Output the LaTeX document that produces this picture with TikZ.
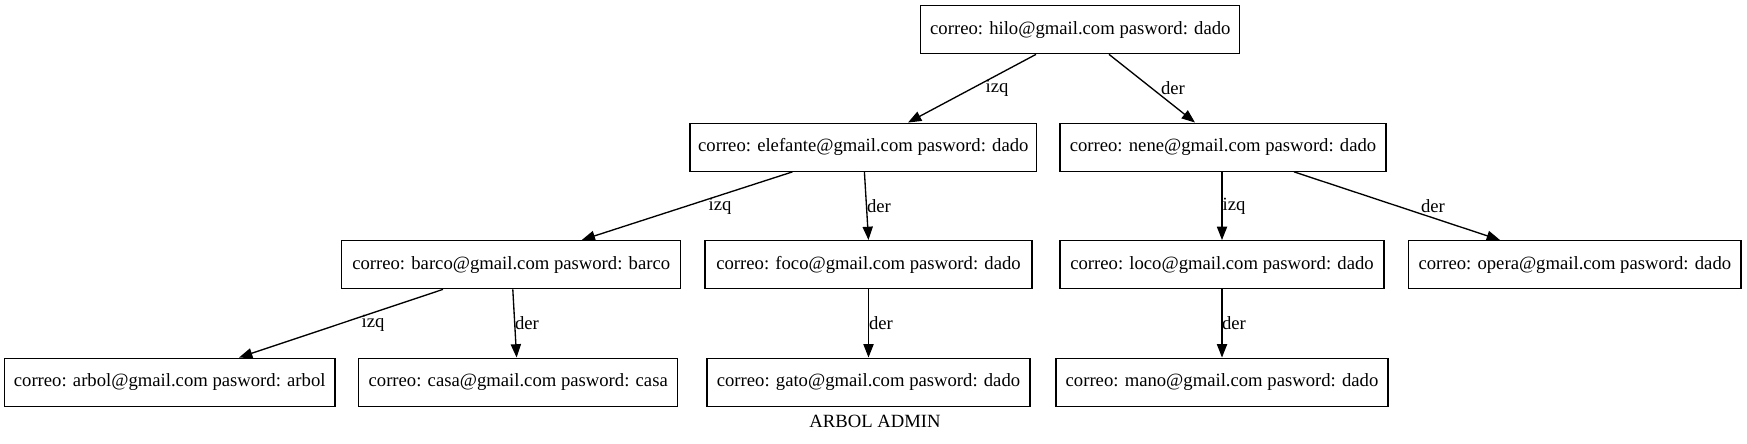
\documentclass[tikz,border=0pt]{standalone}
\usepackage{fontspec}
\setmainfont{Liberation Serif}
\usetikzlibrary{arrows.meta,calc}
\begin{document}
\begin{tikzpicture}[x=0.75pt,y=-0.75pt,
  every node/.style={font=\fontsize{14pt}{16pt}\selectfont},
  rec/.style={draw,line width=1pt,rectangle,inner sep=0pt,minimum height=36pt},
  lab/.style={inner sep=0pt},
  edge/.style={line width=1pt,-{Triangle[length=10pt,width=7.6pt]}}]
\useasboundingbox (0,0) rectangle (1747,443);
\node[rec,minimum width=319*0.75pt] (hilo) at (1080.3,29.7) {correo: hilo@gmail.com pasword: dado};
\node[rec,minimum width=346.7*0.75pt] (elefante) at (863.3,147.2) {correo: elefante@gmail.com pasword: dado};
\node[rec,minimum width=326*0.75pt] (nene) at (1223,147.2) {correo: nene@gmail.com pasword: dado};
\node[rec,minimum width=339*0.75pt] (barco) at (511.2,264.7) {correo: barco@gmail.com pasword: barco};
\node[rec,minimum width=327*0.75pt] (foco) at (868.5,264.7) {correo: foco@gmail.com pasword: dado};
\node[rec,minimum width=324*0.75pt] (loco) at (1222,264.7) {correo: loco@gmail.com pasword: dado};
\node[rec,minimum width=332.4*0.75pt] (opera) at (1574.8,264.7) {correo: opera@gmail.com pasword: dado};
\node[rec,minimum width=330.3*0.75pt] (arbol) at (169.7,382.2) {correo: arbol@gmail.com pasword: arbol};
\node[rec,minimum width=319*0.75pt] (casa) at (518.2,382.2) {correo: casa@gmail.com pasword: casa};
\node[rec,minimum width=323*0.75pt] (gato) at (868.5,382.2) {correo: gato@gmail.com pasword: dado};
\node[rec,minimum width=332*0.75pt] (mano) at (1222,382.2) {correo: mano@gmail.com pasword: dado};
\node[lab] (title) at (875,421.7) {ARBOL ADMIN};
% edges
\draw[edge] ($(hilo.south)+(-44.3,0)$) -- ($(elefante.north)+(44.7,0)$);
\draw[edge] ($(hilo.south)+(28.7,0)$) -- ($(nene.north)+(-28,0)$);
\draw[edge] ($(elefante.south)+(-70.8,0)$) -- ($(barco.north)+(70.5,0)$);
\draw[edge] ($(elefante.south)+(1.1,0)$) -- (foco.north);
\draw[edge] ($(nene.south)+(-1,0)$) -- (loco.north);
\draw[edge] ($(nene.south)+(71,0)$) -- ($(opera.north)+(-74.8,0)$);
\draw[edge] ($(barco.south)+(-68.2,0)$) -- ($(arbol.north)+(69.3,0)$);
\draw[edge] ($(barco.south)+(1.6,0)$) -- ($(casa.north)+(-1.6,0)$);
\draw[edge] (foco.south) -- (gato.north);
\draw[edge] (loco.south) -- (mano.north);
% edge labels
\node[lab] (l1) at (997,88) {izq};
\node[lab] (l2) at (1173,88) {der};
\node[lab] (l3) at (720,206) {izq};
\node[lab] (l4) at (879,206) {der};
\node[lab] (l5) at (1234,206) {izq};
\node[lab] (l6) at (1433,206) {der};
\node[lab] (l7) at (373,323) {izq};
\node[lab] (l8) at (527,323) {der};
\node[lab] (l9) at (881,323) {der};
\node[lab] (l10) at (1234,323) {der};
\end{tikzpicture}
\end{document}
